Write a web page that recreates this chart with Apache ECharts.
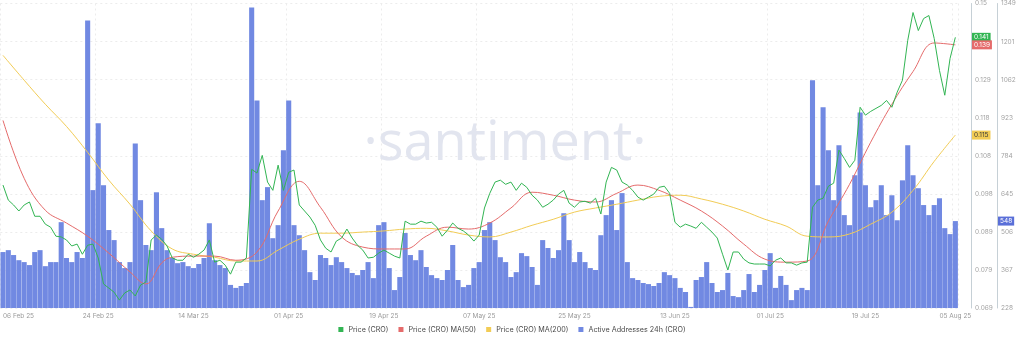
<!DOCTYPE html>
<html><head><meta charset="utf-8">
<script src="https://cdn.jsdelivr.net/npm/echarts@6/dist/echarts.min.js"></script>
<style>html,body{margin:0;padding:0;background:#fff}#c{width:1024px;height:347px}</style>
</head><body><div id="c"></div>
<script>
// ---------- DATA ----------
const startYear = 2025, startMonth = 1, startDay = 6; // 06 Feb 2025
const dayCount = 181;
const xTickLabels = ['06 Feb 25','24 Feb 25','14 Mar 25','01 Apr 25','19 Apr 25','07 May 25','25 May 25','13 Jun 25','01 Jul 25','19 Jul 25','05 Aug 25'];
const priceTickLabels = ['0.069','0.079','0.089','0.098','0.108','0.118','0.129','0.139','0.15'];
const addrTickLabels = ['228','367','506','645','784','923','1062','1201','1349'];
const priceMin = 0.069, priceMax = 0.15;
const addrMin = 228, addrMax = 1349;

const price = [
0.1017,0.0977,0.0964,0.0948,0.0964,0.0972,0.0934,0.0934,0.0913,0.0905,
0.0881,0.0879,0.0871,0.0855,0.0860,0.0833,0.0857,0.0860,0.0823,0.0754,
0.0743,0.0732,0.0711,0.0730,0.0738,0.0722,0.0751,0.0759,0.0871,0.0884,
0.0873,0.0855,0.0823,0.0817,0.0817,0.0833,0.0825,0.0833,0.0844,0.0871,
0.0812,0.0817,0.0804,0.0780,0.0812,0.0812,0.0823,0.1059,0.1049,0.1096,
0.1025,0.1003,0.1070,0.1003,0.1051,0.1057,0.0964,0.0948,0.0932,0.0910,
0.0871,0.0849,0.0839,0.0868,0.0876,0.0900,0.0876,0.0857,0.0844,0.0823,
0.0825,0.0836,0.0844,0.0836,0.0828,0.0823,0.0921,0.0913,0.0913,0.0921,
0.0916,0.0918,0.0905,0.0881,0.0897,0.0916,0.0902,0.0895,0.0884,0.0868,
0.0884,0.0956,0.0995,0.1025,0.1030,0.1019,0.1025,0.1003,0.1022,0.1011,
0.0990,0.0977,0.0958,0.0966,0.0977,0.0993,0.1003,0.0969,0.0958,0.0972,
0.0974,0.0969,0.0982,0.0940,0.1025,0.1064,0.1057,0.1025,0.1017,0.1003,
0.0985,0.0977,0.0985,0.0993,0.1011,0.1014,0.0995,0.0918,0.0905,0.0913,
0.0908,0.0902,0.0918,0.0905,0.0892,0.0876,0.0833,0.0791,0.0839,0.0839,
0.0820,0.0810,0.0807,0.0807,0.0807,0.0802,0.0817,0.0823,0.0810,0.0810,
0.0804,0.0810,0.0812,0.0958,0.0977,0.0982,0.1014,0.1022,0.1110,0.1088,
0.1064,0.1083,0.1224,0.1203,0.1213,0.1221,0.1229,0.1242,0.1224,0.1264,
0.1296,0.1402,0.1476,0.1428,0.1460,0.1468,0.1407,0.1322,0.1256,0.1354,0.141
];

const activeAddresses = [
434,441,423,404,397,386,434,441,382,397,
397,544,412,397,434,412,1286,662,908,680,
515,478,397,375,397,834,625,460,441,654,
522,441,412,393,397,382,375,390,412,540,
404,386,375,313,302,309,320,1334,992,625,
673,485,533,809,992,533,496,441,360,331,
423,412,386,415,397,375,357,349,368,397,
338,533,544,375,294,342,504,423,404,441,
379,349,338,331,368,460,331,305,313,375,
397,515,544,478,415,397,342,360,430,419,
379,313,478,449,412,441,577,478,397,434,
397,375,368,496,570,625,515,651,397,338,
331,320,316,309,320,360,349,338,302,287,
232,331,342,397,320,287,294,357,272,268,
294,353,287,313,368,430,302,346,313,257,
294,302,294,1066,680,967,809,625,827,570,
533,717,948,680,599,625,680,570,643,551,
698,827,717,669,607,570,607,632,522,500,548
];

const ma50Day = [0,4,8,12,16,20,24,27,30,32,36,40,44,48,52,56,60,64,68,72,76,80,84,88,92,96,100,104,108,112,116,120,124,128,132,136,140,144,148,152,156,160,164,168,172,176,180];
const ma50 = [0.1189,0.1035,0.0950,0.0916,0.0881,0.0836,0.0786,0.0754,0.0810,0.0825,
0.0828,0.0828,0.0817,0.0839,0.0948,0.1027,0.0958,0.0879,0.0852,0.0847,
0.0847,0.0881,0.0905,0.0900,0.0916,0.0956,0.0998,0.0990,0.0977,0.0972,
0.0995,0.1017,0.1003,0.0977,0.0948,0.0908,0.0860,0.0820,0.0812,0.0815,
0.0921,0.1019,0.1131,0.1232,0.1319,0.1395,0.139];

const ma200Day = [0,4,8,12,16,20,24,28,32,36,40,44,48,52,56,60,64,68,72,76,80,84,88,92,96,100,104,108,112,116,120,124,128,132,136,140,144,148,152,156,160,164,168,172,176,180];
const ma200 = [0.1362,0.1296,0.1232,0.1173,0.1104,0.1030,0.0966,0.0895,0.0847,0.0833,
0.0825,0.0815,0.0815,0.0844,0.0873,0.0889,0.0889,0.0892,0.0895,0.0900,
0.0902,0.0895,0.0884,0.0879,0.0892,0.0910,0.0926,0.0945,0.0956,0.0966,
0.0977,0.0987,0.0990,0.0980,0.0966,0.0948,0.0926,0.0908,0.0881,0.0879,
0.0887,0.0913,0.0945,0.1003,0.1080,0.115];

// ---------- BUILD ----------
const MONTHS = ['Jan','Feb','Mar','Apr','May','Jun','Jul','Aug','Sep','Oct','Nov','Dec'];
const categories = [];
for (let i = 0; i < dayCount; i++) {
  const d = new Date(Date.UTC(startYear, startMonth, startDay + i));
  categories.push(String(d.getUTCDate()).padStart(2,'0') + ' ' + MONTHS[d.getUTCMonth()] + ' ' + String(d.getUTCFullYear()).slice(2));
}
const tickSet = new Set(xTickLabels);
const showTick = (idx, val) => tickSet.has(categories[idx]);

const C_PRICE = '#32b553', C_MA50 = '#e56b6b', C_MA200 = '#f2cc55', C_ADDR = '#7189e2';
const FONT = 'Inter, "Noto Sans", sans-serif';
const GRID_RIGHT = 66, PRICE_OFF = 13, ADDR_OFF = 39;

const chart = echarts.init(document.getElementById('c'), null, {renderer: 'canvas'});
chart.setOption({
  animation: false,
  backgroundColor: '#ffffff',
  textStyle: {fontFamily: FONT},
  grid: {left: 0, right: GRID_RIGHT, top: 3, bottom: 39, containLabel: false},
  legend: {
    bottom: 9, left: 'center', icon: 'rect', itemWidth: 5, itemHeight: 5, itemGap: 10,
    textStyle: {fontSize: 7.2, color: '#4a4a4a', fontFamily: FONT},
    data: ['Price (CRO)', 'Price (CRO) MA(50)', 'Price (CRO) MA(200)', 'Active Addresses 24h (CRO)']
  },
  xAxis: {
    type: 'category', data: categories, boundaryGap: true,
    axisLine: {show: false}, axisTick: {show: false},
    axisLabel: {interval: showTick, fontSize: 6.5, color: '#9a9a9a', margin: 5, alignMinLabel: 'left', fontFamily: FONT},
    splitLine: {show: true, interval: showTick, lineStyle: {color: '#ececec', type: [2, 3], width: 1}}
  },
  yAxis: [
    {type: 'value', min: priceMin, max: priceMax, show: false, scale: true},
    {type: 'value', min: addrMin, max: addrMax, show: false, scale: true},
    {type: 'value', min: 0, max: priceTickLabels.length - 1, interval: 1, position: 'right', offset: PRICE_OFF,
      axisLine: {show: true, lineStyle: {color: '#c6d0d6'}}, axisTick: {show: false},
      axisLabel: {formatter: v => priceTickLabels[v], fontSize: 6.5, color: '#a3a3a3', margin: 4, fontFamily: FONT},
      splitLine: {show: true, lineStyle: {color: '#ececec', type: [2, 3]}}},
    {type: 'value', min: 0, max: addrTickLabels.length - 1, interval: 1, position: 'right', offset: ADDR_OFF,
      axisLine: {show: true, lineStyle: {color: '#c6d0d6'}}, axisTick: {show: false},
      axisLabel: {formatter: v => addrTickLabels[v], fontSize: 6.5, color: '#a3a3a3', margin: 4, fontFamily: FONT},
      splitLine: {show: false}}
  ],
  series: [
    {name: 'Active Addresses 24h (CRO)', type: 'bar', yAxisIndex: 1, data: activeAddresses,
      barCategoryGap: '4%', itemStyle: {color: C_ADDR}, z: 1},
    {name: 'Price (CRO) MA(200)', type: 'line', yAxisIndex: 0, data: ma200Day.map((d, k) => [d, ma200[k]]),
      showSymbol: false, smooth: 0.4, connectNulls: true, lineStyle: {color: C_MA200, width: 1}, itemStyle: {color: C_MA200}, z: 3},
    {name: 'Price (CRO) MA(50)', type: 'line', yAxisIndex: 0, data: ma50Day.map((d, k) => [d, ma50[k]]),
      showSymbol: false, smooth: 0.4, connectNulls: true, lineStyle: {color: C_MA50, width: 1}, itemStyle: {color: C_MA50}, z: 4},
    {name: 'Price (CRO)', type: 'line', yAxisIndex: 0, data: price,
      showSymbol: false, lineStyle: {color: C_PRICE, width: 1}, itemStyle: {color: C_PRICE}, z: 5}
  ]
});

// badges and watermark
const W = chart.getWidth();
const priceAxisX = W - GRID_RIGHT + PRICE_OFF;
const addrAxisX = W - GRID_RIGHT + ADDR_OFF;
function badge(text, value, axisIndex, x, bg, fg) {
  const y = chart.convertToPixel({yAxisIndex: axisIndex}, value);
  return {type: 'text', x: x, y: y, z: 100,
    style: {text: text, fill: fg, backgroundColor: bg, padding: [1, 2, 1, 2], fontSize: 6.5, fontFamily: FONT,
      align: 'left', verticalAlign: 'middle'}};
}
const lastP = price[price.length - 1], last50 = ma50[ma50.length - 1], last200 = ma200[ma200.length - 1], lastA = activeAddresses[activeAddresses.length - 1];
chart.setOption({
  graphic: [
    {type: 'text', x: 505, y: 145, z: 0, silent: true,
      style: {text: '·santiment·', fill: '#e2e5ef', fontSize: 54, fontFamily: '"Open Sans", Lato, sans-serif', fontWeight: 'normal', align: 'center', verticalAlign: 'middle'}},
    badge(lastP.toFixed(3), lastP, 0, priceAxisX + 1, C_PRICE, '#ffffff'),
    badge(last50.toFixed(3), last50, 0, priceAxisX + 1, C_MA50, '#ffffff'),
    badge(last200.toFixed(3), last200, 0, priceAxisX + 1, C_MA200, '#3a3a3a'),
    badge(String(lastA), lastA, 1, addrAxisX + 1, '#5a6fd8', '#ffffff')
  ]
});
</script>
</body></html>
